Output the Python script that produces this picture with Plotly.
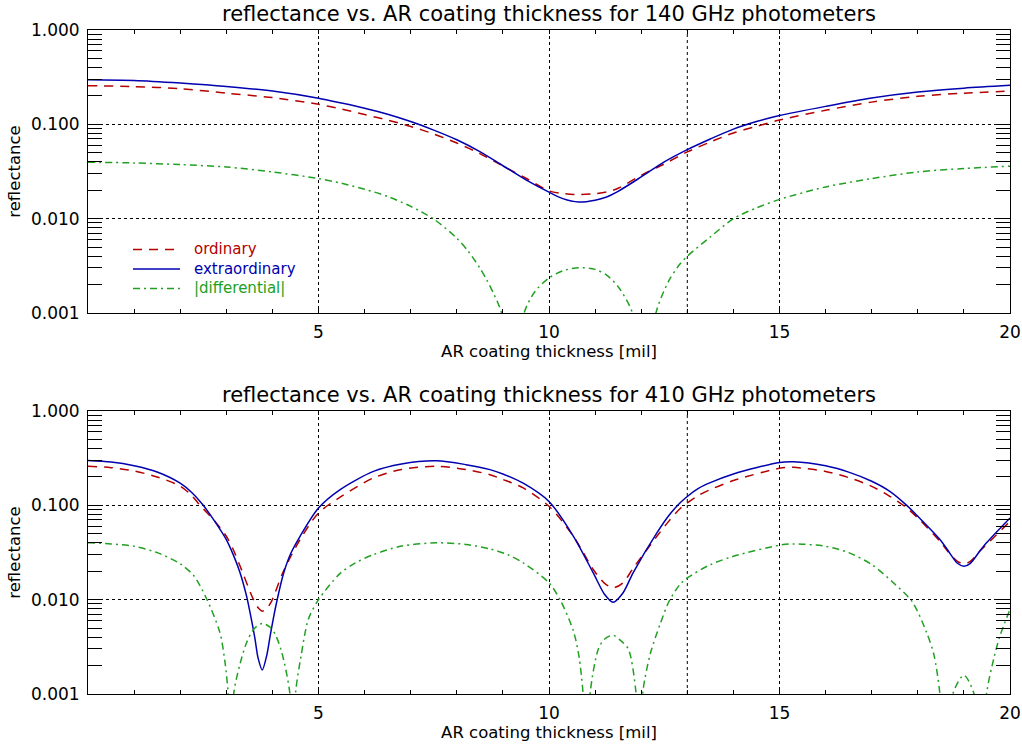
import plotly.graph_objects as go

# ---------------- data ----------------
# 140 GHz
x_140 = [0, 1, 2, 3, 4, 5, 5.5, 6, 6.5, 7, 7.5, 8, 8.5, 9, 9.5, 10, 10.3, 10.64, 11, 11.25,
         11.5, 12, 12.5, 13, 13.5, 14, 14.5, 15, 16, 17, 18, 19, 20]
ext_140 = [0.297, 0.292, 0.274, 0.252, 0.225, 0.189, 0.168, 0.148, 0.128, 0.107, 0.0869, 0.0686,
           0.0514, 0.0364, 0.0258, 0.0191, 0.0163, 0.0150, 0.0157, 0.0170, 0.0195, 0.0277, 0.040,
           0.054, 0.070, 0.089, 0.107, 0.124, 0.155, 0.190, 0.220, 0.242, 0.259]
ord_140 = [0.257, 0.251, 0.239, 0.214, 0.192, 0.163, 0.145, 0.127, 0.111, 0.095, 0.079, 0.0634,
           0.049, 0.0362, 0.0268, 0.0197, 0.0185, 0.0180, 0.0184, 0.0192, 0.021, 0.0288, 0.038,
           0.051, 0.065, 0.081, 0.095, 0.111, 0.141, 0.172, 0.198, 0.214, 0.225]
x_140_dif = [0, 1, 2, 3, 4, 5, 5.5, 6, 6.5, 7, 7.5, 8, 8.25, 8.5, 8.65, 8.8, 8.97, 9.2, 9.46, 9.7,
             10, 10.3, 10.64, 11, 11.25, 11.5, 11.81, 12.07, 12.32, 12.6, 12.84, 13, 13.5, 14,
             14.5, 15, 16, 17, 18, 19, 20]
dif_140 = [0.0396, 0.0390, 0.0374, 0.0353, 0.0313, 0.0266, 0.0237, 0.0205, 0.0172, 0.0135,
           0.0099, 0.0062, 0.0045, 0.0030, 0.00224, 0.0016, 0.0010, 0.0001, 0.0010, 0.0017,
           0.00235, 0.0028, 0.00302, 0.0029, 0.00252, 0.0019, 0.0010, 0.0001, 0.0010, 0.0022,
           0.0033, 0.0040, 0.0064, 0.0100, 0.0130, 0.0160, 0.0217, 0.0266, 0.0313, 0.0340, 0.0360]

# 410 GHz
x_410_ext = [0, 0.5, 1, 1.5, 2, 2.25, 2.5, 2.75, 3, 3.15, 3.3, 3.44, 3.51, 3.62, 3.69, 3.78,
             3.88, 3.95, 4.02, 4.1, 4.24, 4.4, 4.6, 5, 5.47, 6.19, 6.8, 7.56, 8.2, 8.72, 9.0,
             9.44, 10, 10.53, 10.96, 11.2, 11.39, 11.6, 11.83, 12.34, 12.6, 12.84, 13, 13.25,
             13.5, 14, 15, 15.3, 16, 16.5, 17, 17.4, 17.76, 18, 18.48, 18.64, 18.86, 19, 19.14,
             19.35, 19.49, 20]
ext_410 = [0.299, 0.288, 0.263, 0.226, 0.172, 0.137, 0.100, 0.0676, 0.0433, 0.030, 0.0192,
           0.0109, 0.0075, 0.0039, 0.0024, 0.0018, 0.0026, 0.0041, 0.0063, 0.0098, 0.0188,
           0.031, 0.047, 0.0938, 0.147, 0.229, 0.275, 0.297, 0.270, 0.239, 0.215, 0.172, 0.110,
           0.047, 0.0192, 0.0115, 0.0094, 0.0117, 0.0195, 0.051, 0.078, 0.106, 0.124, 0.152,
           0.174, 0.215, 0.285, 0.290, 0.263, 0.225, 0.180, 0.140, 0.100, 0.0765, 0.0434, 0.034,
           0.0243, 0.0226, 0.0243, 0.033, 0.040, 0.0735]
x_410_ord = [0, 0.5, 1, 1.5, 2, 2.25, 2.43, 2.75, 3, 3.15, 3.3, 3.59, 3.7, 3.78, 3.88, 3.98,
             4.24, 4.6, 5, 5.47, 6.19, 6.8, 7.56, 8.2, 8.72, 9.0, 9.44, 10, 10.53, 10.96, 11.2,
             11.39, 11.6, 11.83, 12.34, 12.6, 12.84, 13, 13.25, 13.5, 14, 15, 15.3, 16, 16.5,
             17, 17.4, 17.76, 18, 18.48, 18.64, 18.86, 19, 19.14, 19.35, 19.49, 20]
ord_410 = [0.259, 0.251, 0.231, 0.200, 0.160, 0.127, 0.100, 0.068, 0.047, 0.034, 0.0226, 0.0100,
           0.0081, 0.00755, 0.0081, 0.0096, 0.020, 0.0434, 0.083, 0.122, 0.195, 0.240, 0.259,
           0.240, 0.211, 0.188, 0.153, 0.0977, 0.047, 0.0209, 0.015, 0.0134, 0.015, 0.0217,
           0.047, 0.068, 0.092, 0.106, 0.128, 0.147, 0.183, 0.247, 0.253, 0.229, 0.197, 0.159,
           0.124, 0.094, 0.0735, 0.0416, 0.033, 0.0255, 0.0240, 0.0255, 0.033, 0.0384, 0.0677]
x_410_dif = [0, 0.5, 1, 1.5, 2, 2.3, 2.57, 2.86, 2.97, 3.04, 3.1, 3.16, 3.3, 3.44, 3.6, 3.78,
             3.95, 4.06, 4.2, 4.38, 4.44, 4.5, 4.62, 4.78, 5, 5.47, 5.8, 6.19, 6.8, 7.56, 8.2,
             8.72, 9.1, 9.44, 10, 10.24, 10.53, 10.65, 10.74, 10.82, 10.89, 11.07, 11.2, 11.39,
             11.55, 11.72, 11.89, 11.96, 12.03, 12.2, 12.41, 12.6, 12.84, 13, 13.5, 14, 15, 15.3,
             16, 16.5, 17, 17.47, 17.88, 18.19, 18.35, 18.48, 18.62, 18.76, 19, 19.22, 19.35,
             19.49, 19.65, 19.78, 20]
dif_410 = [0.040, 0.039, 0.0368, 0.0315, 0.0240, 0.0178, 0.0103, 0.0045, 0.0022, 0.0010, 0.0001,
           0.0010, 0.0021, 0.0035, 0.0049, 0.0056, 0.0051, 0.0043, 0.0028, 0.0010, 0.0001,
           0.0010, 0.0025, 0.0062, 0.0100, 0.0190, 0.0245, 0.030, 0.037, 0.040, 0.0385, 0.0345,
           0.030, 0.0246, 0.0151, 0.0100, 0.00465, 0.0025, 0.0010, 0.0001, 0.0010, 0.0030,
           0.0038, 0.0042, 0.0037, 0.0030, 0.0010, 0.0001, 0.0010, 0.0027, 0.0055, 0.0095,
           0.0145, 0.0170, 0.0235, 0.0288, 0.0378, 0.039, 0.0368, 0.0315, 0.0236, 0.0151,
           0.0095, 0.0045, 0.0026, 0.0010, 0.0001, 0.0010, 0.00158, 0.0010, 0.0001, 0.0010,
           0.0024, 0.0041, 0.0079]

series_names = ["ordinary", "extraordinary", "|differential|"]
panel_titles = ["reflectance vs. AR coating thickness for 140 GHz photometers",
                "reflectance vs. AR coating thickness for 410 GHz photometers"]
x_title = "AR coating thickness [mil]"
y_title = "reflectance"
y_tickvals = [0.001, 0.01, 0.1, 1.0]
y_ticktext = ["0.001", "0.010", "0.100", "1.000"]
x_tickvals = [5, 10, 15, 20]
x_ticktext = ["5", "10", "15", "20"]
extra_grid_x = 13

# ---------------- styles ----------------
RED = "#b40000"
BLUE = "#0000b0"
GREEN = "#22a022"
FONT = "DejaVu Sans"
styles = {
    "ordinary": dict(color=RED, width=1.5, dash="9px,7px"),
    "extraordinary": dict(color=BLUE, width=1.5),
    "|differential|": dict(color=GREEN, width=1.5, dash="7px,4px,2px,4px"),
}

fig = go.Figure()

panels = [
    ("x", "y", [(x_140, ord_140), (x_140, ext_140), (x_140_dif, dif_140)]),
    ("x2", "y2", [(x_410_ord, ord_410), (x_410_ext, ext_410), (x_410_dif, dif_410)]),
]
for xa, ya, data in panels:
    for name, (xs, ys) in zip(series_names, data):
        fig.add_trace(go.Scatter(
            x=xs, y=ys, name=name, mode="lines", xaxis=xa, yaxis=ya,
            line=dict(shape="spline", smoothing=0.8, **styles[name]),
            showlegend=False, cliponaxis=True))

minor_y = [m * 10 ** e for e in (-3, -2, -1) for m in range(2, 10)]

W, H = 1022, 748
ML, MR, MT, MB = 88, 12, 30, 54
plot_h = H - MT - MB
def py(p):  # pixel -> paper y
    return (H - MB - p) / plot_h

top_dom = [py(313), 1.0]
bot_dom = [0.0, py(411)]

def xaxis_cfg(anchor):
    return dict(
        anchor=anchor, domain=[0, 1], range=[0, 20], automargin=False,
        showline=True, linecolor="black", linewidth=1, mirror="ticks",
        ticks="inside", ticklen=4, tickcolor="black", tickwidth=1,
        tickvals=x_tickvals, ticktext=x_ticktext,
        tickfont=dict(family=FONT, size=17, color="black"),
        ticklabelstandoff=4,
        showgrid=True, gridcolor="black", griddash="dot", gridwidth=1,
        zeroline=False,
        minor=dict(ticks="inside", dtick=1, tick0=0, ticklen=4, tickcolor="black",
                   showgrid=False),
        title=dict(text=x_title, font=dict(family=FONT, size=16.5, color="black"), standoff=4),
    )

def yaxis_cfg(anchor, dom):
    return dict(
        anchor=anchor, domain=dom, type="log", range=[-3, 0], automargin=False,
        showline=True, linecolor="black", linewidth=1, mirror="ticks",
        ticks="inside", ticklen=14, tickcolor="black", tickwidth=1,
        tickvals=y_tickvals, ticktext=y_ticktext,
        tickfont=dict(family=FONT, size=17, color="black"),
        ticklabelstandoff=4,
        showgrid=True, gridcolor="black", griddash="dot", gridwidth=1,
        zeroline=False,
        minor=dict(ticks="inside", tickvals=minor_y, ticklen=14, tickcolor="black",
                   showgrid=False),
        title=dict(text=y_title, font=dict(family=FONT, size=16.5, color="black"), standoff=6),
    )

fig.update_layout(
    width=W, height=H,
    margin=dict(l=ML, r=MR, t=MT, b=MB, pad=0, autoexpand=False),
    paper_bgcolor="white", plot_bgcolor="white",
    showlegend=False,
    font=dict(family=FONT, color="black"),
    xaxis=xaxis_cfg("y"), yaxis=yaxis_cfg("x", top_dom),
    xaxis2=xaxis_cfg("y2"), yaxis2=yaxis_cfg("x2", bot_dom),
)

# extra dotted vertical line at 13 mil in both panels
for xr, yr in (("x", "y domain"), ("x2", "y2 domain")):
    fig.add_shape(type="line", x0=extra_grid_x, x1=extra_grid_x, y0=0, y1=1,
                  xref=xr, yref=yr, line=dict(color="black", width=1, dash="dot"),
                  layer="below")

# panel titles
for title, p in zip(panel_titles, (14, 395)):
    fig.add_annotation(text=title, x=0.5, y=py(p), xref="paper", yref="paper",
                       xanchor="center", yanchor="middle", showarrow=False,
                       font=dict(family=FONT, size=21, color="black"))

# legend drawn inside the top panel (IDL style)
def dx(p):  # pixel -> x domain fraction
    return (p - ML) / (W - ML - MR)
def dy(p):  # pixel -> top y domain fraction
    return (313 - p) / (313 - 30)

LEG_SIZE = 15
line_gap = 1.3 * LEG_SIZE
leg_center = 268
for i, name in enumerate(series_names):
    st = styles[name]
    ly = leg_center + (i - 1) * line_gap + 1
    fig.add_shape(type="line", xref="x domain", yref="y domain",
                  x0=dx(133), x1=dx(180), y0=dy(ly), y1=dy(ly),
                  line=dict(color=st["color"], width=1.5, dash=st.get("dash", "solid")))
legend_text = "<br>".join(
    f"<span style='color:{styles[n]['color']}'>{n}</span>" for n in series_names)
fig.add_annotation(text=legend_text, xref="x domain", yref="y domain",
                   x=dx(192), y=dy(leg_center), xanchor="left", yanchor="middle",
                   align="left", showarrow=False,
                   font=dict(family=FONT, size=LEG_SIZE, color="black"))

fig.write_html("out.html")
